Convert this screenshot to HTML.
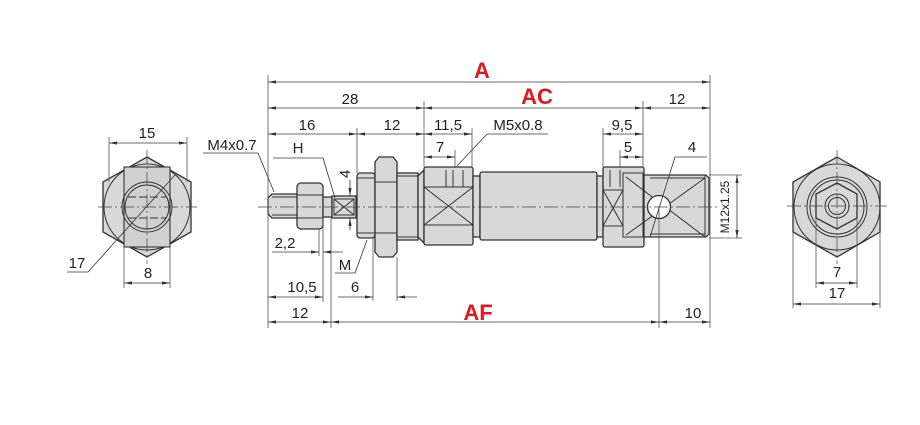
<!DOCTYPE html>
<html><head><meta charset="utf-8">
<style>
html,body{margin:0;padding:0;background:#fff;}
svg{display:block;}
text{font-family:"Liberation Sans",Arial,sans-serif;fill:#222;}
.d{font-size:15px;text-anchor:middle;}
.r{font-size:22px;font-weight:bold;fill:#e8141b;text-anchor:middle;}
.p{fill:#d8d8d8;stroke:#333;stroke-width:1.3;}
.t{fill:none;stroke:#333;stroke-width:1;}
.e{stroke:#555;stroke-width:0.8;fill:none;}
.dm{stroke:#3a3a3a;stroke-width:0.85;fill:none;}
.c{stroke:#444;stroke-width:0.7;fill:none;stroke-dasharray:14 3 2 3;}
</style></head>
<body>
<svg width="920" height="425" viewBox="0 0 920 425" xmlns="http://www.w3.org/2000/svg">
<defs>
<marker id="a" viewBox="0 0 10 4" refX="10" refY="2" markerWidth="8" markerHeight="3.2" markerUnits="userSpaceOnUse" orient="auto-start-reverse"><path d="M0,0 L10,2 L0,4z" fill="#333"/></marker>
</defs>

<!-- ============ LEFT END VIEW ============ -->
<polygon class="p" points="147,157 191,182 191,232 147,257 103,232 103,182"/>
<circle class="t" cx="147" cy="207" r="43"/>
<rect x="124" y="167" width="46" height="80" fill="#d0d0d0" stroke="#333" stroke-width="1.1"/>
<circle class="t" cx="147" cy="207" r="25" stroke-width="1.1"/>
<circle class="t" cx="147" cy="207" r="22" stroke-width="0.6"/>
<line class="t" x1="128" y1="197" x2="166" y2="197" stroke-width="0.6" stroke-dasharray="8 3"/>
<line class="t" x1="128" y1="218" x2="166" y2="218" stroke-width="0.6" stroke-dasharray="8 3"/>
<line class="c" x1="98" y1="207" x2="197" y2="207"/>
<line class="c" x1="147" y1="150" x2="147" y2="264"/>
<!-- 15 -->
<line class="e" x1="109" y1="137" x2="109" y2="182"/>
<line class="e" x1="187" y1="137" x2="187" y2="182"/>
<line class="dm" x1="109" y1="143" x2="187" y2="143" marker-start="url(#a)" marker-end="url(#a)"/>
<text class="d" x="147" y="138">15</text>
<!-- 8 -->
<line class="e" x1="124" y1="247" x2="124" y2="288"/>
<line class="e" x1="170" y1="247" x2="170" y2="288"/>
<line class="dm" x1="124" y1="283" x2="170" y2="283" marker-start="url(#a)" marker-end="url(#a)"/>
<text class="d" x="148" y="278">8</text>
<!-- 17 -->
<polyline class="dm" points="67,272 88,272 175,175"/>
<text class="d" x="77" y="268">17</text>

<!-- ============ MAIN SIDE VIEW ============ -->
<!-- thread end -->
<polygon class="p" points="272,194 298,194 298,218 272,218 268,214 268,198"/>
<line class="t" x1="272" y1="197" x2="298" y2="197" stroke-width="0.6"/>
<line class="t" x1="272" y1="215" x2="298" y2="215" stroke-width="0.6"/>
<!-- nut -->
<rect class="p" x="297" y="183" width="26" height="46" rx="4"/>
<line class="t" x1="297" y1="195" x2="323" y2="195"/>
<line class="t" x1="297" y1="218" x2="323" y2="218"/>
<!-- collar -->
<rect class="p" x="323" y="197" width="9" height="20"/>
<!-- rod with flat -->
<rect class="p" x="332" y="196" width="24" height="22"/>
<rect class="t" x="334" y="199" width="20" height="16"/>
<line class="t" x1="334" y1="199" x2="354" y2="215" stroke-width="0.7"/>
<line class="t" x1="334" y1="215" x2="354" y2="199" stroke-width="0.7"/>
<!-- gland -->
<rect class="p" x="357" y="173" width="18" height="65" rx="3"/>
<line class="t" x1="357" y1="178" x2="375" y2="178" stroke-width="0.7"/>
<line class="t" x1="357" y1="233" x2="375" y2="233" stroke-width="0.7"/>
<!-- big nut -->
<polygon class="p" points="379,157 393,157 397,162 397,252 393,257 379,257 375,252 375,162"/>
<line class="t" x1="375" y1="182" x2="397" y2="182"/>
<line class="t" x1="375" y1="233" x2="397" y2="233"/>
<!-- body thread -->
<rect class="p" x="397" y="173" width="21" height="67"/>
<line class="t" x1="397" y1="176" x2="418" y2="176" stroke-width="0.6"/>
<line class="t" x1="397" y1="237" x2="418" y2="237" stroke-width="0.6"/>
<polygon class="p" points="418,176 424,170 424,243 418,237"/>
<!-- front cap -->
<rect class="p" x="424" y="167" width="49" height="78" rx="2"/>
<line class="t" x1="424" y1="187" x2="473" y2="187"/>
<line class="t" x1="424" y1="225" x2="473" y2="225"/>
<line class="t" x1="424" y1="187" x2="473" y2="225" stroke-width="0.7"/>
<line class="t" x1="424" y1="225" x2="473" y2="187" stroke-width="0.7"/>
<line class="t" x1="446" y1="170" x2="446" y2="187" stroke-width="0.8"/>
<line class="t" x1="453" y1="170" x2="453" y2="187" stroke-width="0.8"/>
<line class="t" x1="463" y1="170" x2="463" y2="187" stroke-width="0.8"/>
<!-- necks & body -->
<rect class="p" x="473" y="176" width="7" height="61"/>
<rect class="p" x="480" y="172" width="117" height="68" rx="2"/>
<rect class="p" x="597" y="176" width="6" height="61"/>
<!-- rear cap -->
<rect class="p" x="603" y="167" width="41" height="80" rx="2"/>
<rect class="t" x="623" y="173" width="20" height="64"/>
<line class="t" x1="603" y1="190" x2="623" y2="190"/>
<line class="t" x1="603" y1="226" x2="623" y2="226"/>
<line class="t" x1="603" y1="190" x2="623" y2="226" stroke-width="0.7"/>
<line class="t" x1="603" y1="226" x2="623" y2="190" stroke-width="0.7"/>
<line class="t" x1="610" y1="170" x2="610" y2="187" stroke-width="0.8"/>
<line class="t" x1="620" y1="170" x2="620" y2="187" stroke-width="0.8"/>
<!-- clevis -->
<polygon class="p" points="644,175 706,175 709,178 709,234 706,237 644,237"/>
<line class="t" x1="705" y1="175" x2="705" y2="237" stroke-width="0.7"/>
<line class="t" x1="650" y1="178" x2="705" y2="178" stroke-width="0.6"/>
<line class="t" x1="650" y1="234" x2="705" y2="234" stroke-width="0.6"/>
<line class="t" x1="626" y1="177" x2="705" y2="237" stroke-width="0.7"/>
<line class="t" x1="626" y1="235" x2="705" y2="178" stroke-width="0.7"/>
<circle cx="659" cy="207" r="11.5" fill="#fff" stroke="#333" stroke-width="1.3"/>

<!-- center line -->
<line class="c" x1="258" y1="207" x2="718" y2="207"/>

<!-- extension lines -->
<line class="e" x1="268" y1="75" x2="268" y2="328"/>
<line class="e" x1="710" y1="75" x2="710" y2="328"/>
<line class="e" x1="424" y1="101" x2="424" y2="167"/>
<line class="e" x1="357" y1="128" x2="357" y2="173"/>
<line class="e" x1="472" y1="128" x2="472" y2="167"/>
<line class="e" x1="455" y1="150" x2="455" y2="168"/>
<line class="e" x1="603" y1="128" x2="603" y2="167"/>
<line class="e" x1="643" y1="101" x2="643" y2="167"/>
<line class="e" x1="620" y1="150" x2="620" y2="168"/>
<line class="e" x1="659" y1="207" x2="659" y2="328"/>
<line class="e" x1="331" y1="218" x2="331" y2="328"/>
<line class="e" x1="323" y1="218" x2="323" y2="302"/>
<line class="e" x1="319" y1="229" x2="319" y2="256"/>
<line class="e" x1="373" y1="238" x2="373" y2="301"/>
<line class="e" x1="397" y1="257" x2="397" y2="301"/>
<line class="e" x1="709" y1="175" x2="742" y2="175"/>
<line class="e" x1="709" y1="238" x2="742" y2="238"/>

<!-- dimensions top -->
<line class="dm" x1="268" y1="82" x2="710" y2="82" marker-start="url(#a)" marker-end="url(#a)"/>
<line class="dm" x1="268" y1="108" x2="424" y2="108" marker-start="url(#a)" marker-end="url(#a)"/>
<line class="dm" x1="424" y1="108" x2="643" y2="108" marker-start="url(#a)" marker-end="url(#a)"/>
<line class="dm" x1="643" y1="108" x2="710" y2="108" marker-start="url(#a)" marker-end="url(#a)"/>
<line class="dm" x1="268" y1="134" x2="357" y2="134" marker-start="url(#a)" marker-end="url(#a)"/>
<line class="dm" x1="357" y1="134" x2="424" y2="134" marker-start="url(#a)" marker-end="url(#a)"/>
<line class="dm" x1="424" y1="134" x2="472" y2="134" marker-start="url(#a)" marker-end="url(#a)"/>
<line class="dm" x1="603" y1="134" x2="643" y2="134" marker-start="url(#a)" marker-end="url(#a)"/>
<line class="dm" x1="424" y1="157" x2="455" y2="157" marker-start="url(#a)" marker-end="url(#a)"/>
<line class="dm" x1="620" y1="157" x2="643" y2="157" marker-start="url(#a)" marker-end="url(#a)"/>

<text class="r" x="482" y="78">A</text>
<text class="r" x="537" y="104">AC</text>
<text class="d" x="350" y="104">28</text>
<text class="d" x="677" y="104">12</text>
<text class="d" x="307" y="130">16</text>
<text class="d" x="392" y="130">12</text>
<text class="d" x="448" y="130">11,5</text>
<text class="d" x="518" y="130">M5x0.8</text>
<text class="d" x="622" y="130">9,5</text>
<text class="d" x="440" y="152">7</text>
<text class="d" x="628" y="152">5</text>
<text class="d" x="692" y="152">4</text>

<!-- leaders -->
<polyline class="dm" points="487,134 548,134"/>
<line class="dm" x1="487" y1="134" x2="457" y2="166"/>
<polyline class="dm" points="203,153 258,153 274,192"/>
<text class="d" x="232" y="150">M4x0.7</text>
<polyline class="dm" points="273,158 323,158 335,198"/>
<text class="d" x="298" y="153">H</text>
<polyline class="dm" points="707,157 675,157 650,237"/>
<polyline class="dm" points="335,273 355,273 367,240"/>
<text class="d" x="345" y="270">M</text>

<!-- 4 vertical -->
<line class="dm" x1="350" y1="180" x2="350" y2="196" marker-end="url(#a)"/>
<line class="dm" x1="350" y1="230" x2="350" y2="218" marker-end="url(#a)"/>
<text class="d" transform="translate(345,174) rotate(-90)" y="5">4</text>

<!-- M12x1.25 -->
<line class="dm" x1="737" y1="175" x2="737" y2="238" marker-start="url(#a)" marker-end="url(#a)"/>
<text transform="translate(729,207) rotate(-90)" text-anchor="middle" font-size="12">M12x1.25</text>

<!-- bottom dims -->
<line class="dm" x1="290" y1="252" x2="319" y2="252" marker-end="url(#a)"/>
<line class="dm" x1="343" y1="252" x2="323" y2="252" marker-end="url(#a)"/>
<line class="dm" x1="272" y1="252" x2="290" y2="252"/>
<text class="d" x="285" y="248">2,2</text>
<line class="dm" x1="268" y1="297" x2="323" y2="297" marker-start="url(#a)" marker-end="url(#a)"/>
<text class="d" x="302" y="292">10,5</text>
<line class="dm" x1="338" y1="297" x2="373" y2="297" marker-end="url(#a)"/>
<line class="dm" x1="417" y1="297" x2="397" y2="297" marker-end="url(#a)"/>
<text class="d" x="355" y="292">6</text>
<line class="dm" x1="268" y1="322" x2="331" y2="322" marker-start="url(#a)" marker-end="url(#a)"/>
<line class="dm" x1="331" y1="322" x2="659" y2="322" marker-start="url(#a)" marker-end="url(#a)"/>
<line class="dm" x1="659" y1="322" x2="710" y2="322" marker-start="url(#a)" marker-end="url(#a)"/>
<text class="d" x="300" y="318">12</text>
<text class="r" x="478" y="320">AF</text>
<text class="d" x="693" y="318">10</text>

<!-- ============ RIGHT END VIEW ============ -->
<polygon class="p" points="837,157 880,182 880,232 837,257 793,232 793,182"/>
<circle class="t" cx="837" cy="207" r="43"/>
<circle class="t" cx="837" cy="207" r="30"/>
<circle class="t" cx="837" cy="207" r="27" stroke-width="0.5"/>
<polygon class="p" points="837,183 857,194 857,218 837,229 816,218 816,194"/>
<circle class="t" cx="837" cy="206" r="12" stroke-width="1.2"/>
<circle class="t" cx="837" cy="206" r="8.5"/>
<line class="c" x1="787" y1="206" x2="887" y2="206"/>
<line class="c" x1="837" y1="150" x2="837" y2="264"/>
<line class="e" x1="816" y1="218" x2="816" y2="288"/>
<line class="e" x1="857" y1="218" x2="857" y2="288"/>
<line class="e" x1="793" y1="232" x2="793" y2="308"/>
<line class="e" x1="880" y1="232" x2="880" y2="308"/>
<line class="dm" x1="816" y1="283" x2="857" y2="283" marker-start="url(#a)" marker-end="url(#a)"/>
<line class="dm" x1="793" y1="304" x2="880" y2="304" marker-start="url(#a)" marker-end="url(#a)"/>
<text class="d" x="837" y="277">7</text>
<text class="d" x="837" y="298">17</text>
</svg>
</body></html>
